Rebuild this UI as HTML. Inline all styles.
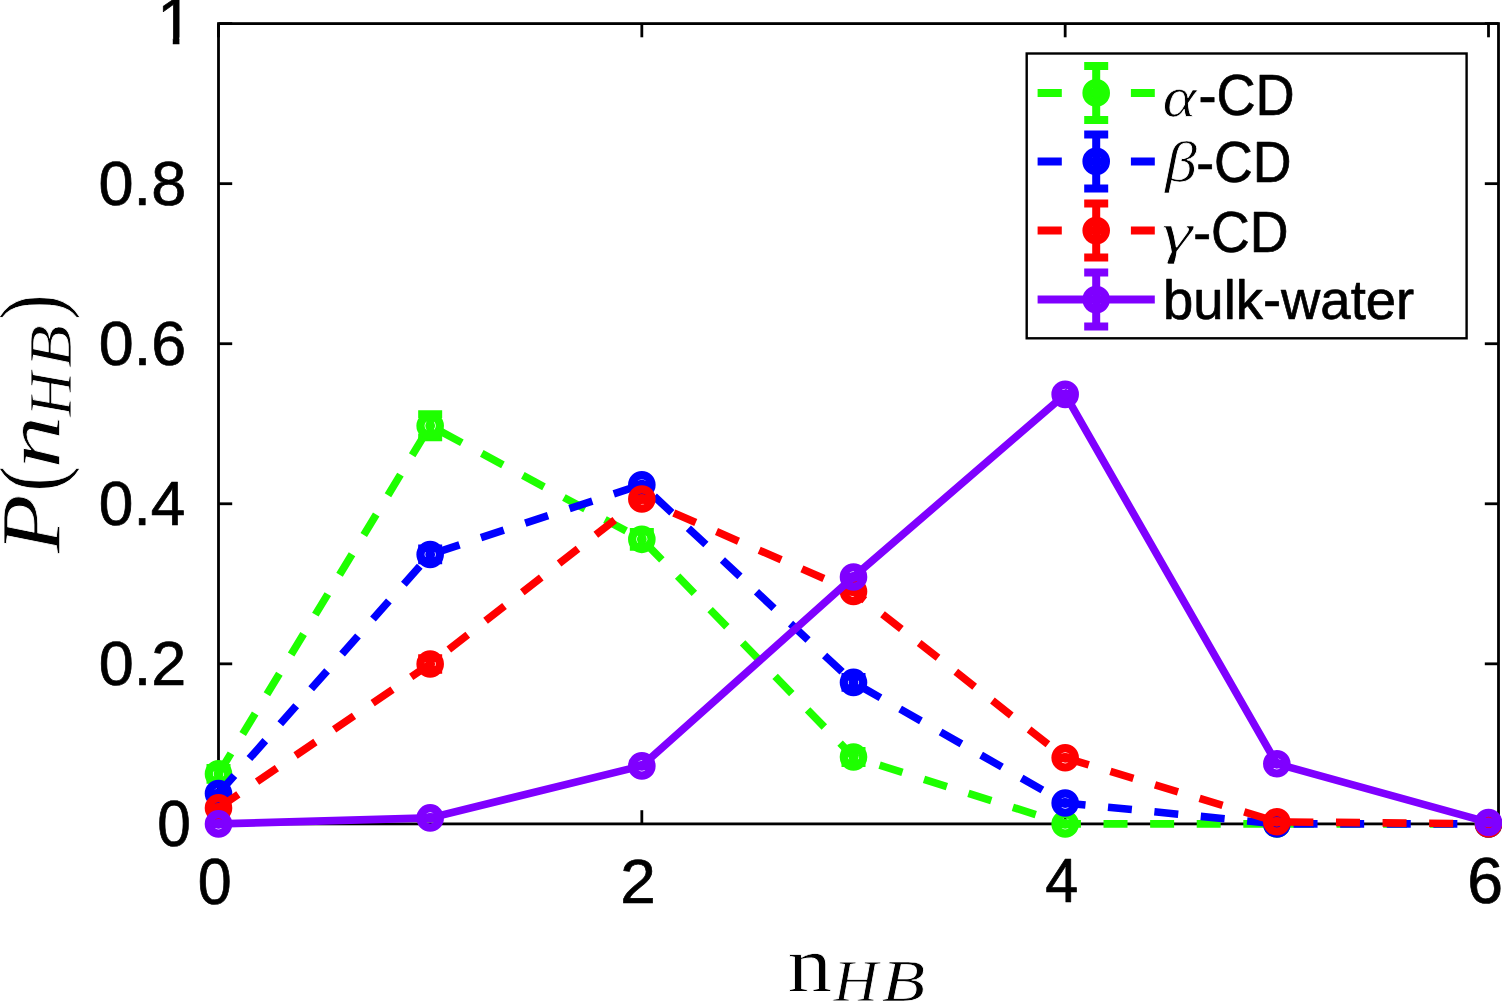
<!DOCTYPE html><html><head><meta charset="utf-8"><style>
html,body{margin:0;padding:0;background:#fff;width:1502px;height:1001px;overflow:hidden}
svg{display:block}
.t{font-family:"Liberation Sans",Arial,Helvetica,sans-serif;fill:#000}
.m{font-family:"Liberation Serif","Times New Roman",serif;font-style:italic;fill:#000}
.r{font-family:"Liberation Serif","Times New Roman",serif;fill:#000}
</style></head><body>
<svg width="1502" height="1001" viewBox="0 0 1502 1001">
<rect width="1502" height="1001" fill="#fff"/>
<g stroke="#000" stroke-width="2.8" fill="none" stroke-linecap="square">
<rect x="218.5" y="23.6" width="1280.0" height="800.3"/>
<line x1="218.50" y1="823.9" x2="218.50" y2="810.1999999999999" stroke-linecap="butt"/>
<line x1="218.50" y1="23.6" x2="218.50" y2="37.3" stroke-linecap="butt"/>
<line x1="641.83" y1="823.9" x2="641.83" y2="810.1999999999999" stroke-linecap="butt"/>
<line x1="641.83" y1="23.6" x2="641.83" y2="37.3" stroke-linecap="butt"/>
<line x1="1065.17" y1="823.9" x2="1065.17" y2="810.1999999999999" stroke-linecap="butt"/>
<line x1="1065.17" y1="23.6" x2="1065.17" y2="37.3" stroke-linecap="butt"/>
<line x1="1488.50" y1="823.9" x2="1488.50" y2="810.1999999999999" stroke-linecap="butt"/>
<line x1="1488.50" y1="23.6" x2="1488.50" y2="37.3" stroke-linecap="butt"/>
<line x1="218.5" y1="823.90" x2="232.2" y2="823.90" stroke-linecap="butt"/>
<line x1="1498.5" y1="823.90" x2="1484.8" y2="823.90" stroke-linecap="butt"/>
<line x1="218.5" y1="663.84" x2="232.2" y2="663.84" stroke-linecap="butt"/>
<line x1="1498.5" y1="663.84" x2="1484.8" y2="663.84" stroke-linecap="butt"/>
<line x1="218.5" y1="503.78" x2="232.2" y2="503.78" stroke-linecap="butt"/>
<line x1="1498.5" y1="503.78" x2="1484.8" y2="503.78" stroke-linecap="butt"/>
<line x1="218.5" y1="343.72" x2="232.2" y2="343.72" stroke-linecap="butt"/>
<line x1="1498.5" y1="343.72" x2="1484.8" y2="343.72" stroke-linecap="butt"/>
<line x1="218.5" y1="183.66" x2="232.2" y2="183.66" stroke-linecap="butt"/>
<line x1="1498.5" y1="183.66" x2="1484.8" y2="183.66" stroke-linecap="butt"/>
<line x1="218.5" y1="23.60" x2="232.2" y2="23.60" stroke-linecap="butt"/>
<line x1="1498.5" y1="23.60" x2="1484.8" y2="23.60" stroke-linecap="butt"/>
</g>
<text class="t" font-size="100" transform="translate(157.23,845.81) scale(0.6042,0.6408)" stroke="#000" stroke-width="1.124" stroke-linejoin="round">0</text>
<text class="t" font-size="100" transform="translate(98.83,685.01) scale(0.6292,0.6366)" stroke="#000" stroke-width="1.106" stroke-linejoin="round">0.2</text>
<text class="t" font-size="100" transform="translate(98.86,524.81) scale(0.6220,0.6366)" stroke="#000" stroke-width="1.112" stroke-linejoin="round">0.4</text>
<text class="t" font-size="100" transform="translate(98.84,364.81) scale(0.6285,0.6366)" stroke="#000" stroke-width="1.107" stroke-linejoin="round">0.6</text>
<text class="t" font-size="100" transform="translate(98.53,204.51) scale(0.6308,0.6380)" stroke="#000" stroke-width="1.103" stroke-linejoin="round">0.8</text>
<text class="t" font-size="100" transform="translate(197.81,903.60) scale(0.6104,0.6493)" stroke="#000" stroke-width="1.111" stroke-linejoin="round">0</text>
<text class="t" font-size="100" transform="translate(620.25,902.55) scale(0.6391,0.6343)" stroke="#000" stroke-width="1.099" stroke-linejoin="round">2</text>
<text class="t" font-size="100" transform="translate(1045.16,902.35) scale(0.5941,0.6377)" stroke="#000" stroke-width="1.137" stroke-linejoin="round">4</text>
<text class="t" font-size="100" transform="translate(1467.13,903.31) scale(0.6435,0.6423)" stroke="#000" stroke-width="1.089" stroke-linejoin="round">6</text>
<clipPath id="c1"><rect x="140" y="-10" width="60" height="47.6"/><rect x="172.8" y="-10" width="6.6" height="60"/></clipPath>
<text class="t" font-size="65" x="156.9" y="43.8" clip-path="url(#c1)" stroke="#000" stroke-width="0.7" stroke-linejoin="round">1</text>
<polyline points="218.50,773.88 430.17,425.75 641.83,539.31 853.50,756.99 1065.17,823.90 1276.83,823.90 1488.50,823.90" fill="none" stroke="#1eff00" stroke-width="7.6" stroke-linejoin="miter" stroke-dasharray="24 22.6"/>
<g stroke="#1eff00" stroke-width="7.6" fill="none">
<path d="M218.50,767.80V779.96M206.50,767.80H230.50M206.50,779.96H230.50"/>
<path d="M430.17,414.15V437.36M418.17,414.15H442.17M418.17,437.36H442.17"/>
<path d="M641.83,531.71V546.92M629.83,531.71H653.83M629.83,546.92H653.83"/>
<path d="M853.50,750.91V763.08M841.50,750.91H865.50M841.50,763.08H865.50"/>
<path d="M1065.17,823.42V824.38M1053.17,823.42H1077.17M1053.17,824.38H1077.17"/>
<path d="M1276.83,823.42V824.38M1264.83,823.42H1288.83M1264.83,824.38H1288.83"/>
<path d="M1488.50,823.42V824.38M1476.50,823.42H1500.50M1476.50,824.38H1500.50"/>
</g>
<path d="M204.70,773.88a13.8,13.8 0 1,0 27.6,0a13.8,13.8 0 1,0 -27.6,0ZM212.90,773.88a5.6,5.6 0 1,0 11.2,0a5.6,5.6 0 1,0 -11.2,0ZM213.60,773.88a4.9,4.9 0 1,0 9.8,0a4.9,4.9 0 1,0 -9.8,0Z" fill="#1eff00" fill-rule="evenodd"/>
<path d="M416.37,425.75a13.8,13.8 0 1,0 27.6,0a13.8,13.8 0 1,0 -27.6,0ZM424.57,425.75a5.6,5.6 0 1,0 11.2,0a5.6,5.6 0 1,0 -11.2,0ZM425.27,425.75a4.9,4.9 0 1,0 9.8,0a4.9,4.9 0 1,0 -9.8,0Z" fill="#1eff00" fill-rule="evenodd"/>
<path d="M628.03,539.31a13.8,13.8 0 1,0 27.6,0a13.8,13.8 0 1,0 -27.6,0ZM636.23,539.31a5.6,5.6 0 1,0 11.2,0a5.6,5.6 0 1,0 -11.2,0ZM636.93,539.31a4.9,4.9 0 1,0 9.8,0a4.9,4.9 0 1,0 -9.8,0Z" fill="#1eff00" fill-rule="evenodd"/>
<path d="M839.70,756.99a13.8,13.8 0 1,0 27.6,0a13.8,13.8 0 1,0 -27.6,0ZM847.90,756.99a5.6,5.6 0 1,0 11.2,0a5.6,5.6 0 1,0 -11.2,0ZM848.60,756.99a4.9,4.9 0 1,0 9.8,0a4.9,4.9 0 1,0 -9.8,0Z" fill="#1eff00" fill-rule="evenodd"/>
<path d="M1051.37,823.90a13.8,13.8 0 1,0 27.6,0a13.8,13.8 0 1,0 -27.6,0ZM1059.57,823.90a5.6,5.6 0 1,0 11.2,0a5.6,5.6 0 1,0 -11.2,0ZM1060.27,823.90a4.9,4.9 0 1,0 9.8,0a4.9,4.9 0 1,0 -9.8,0Z" fill="#1eff00" fill-rule="evenodd"/>
<path d="M1263.03,823.90a13.8,13.8 0 1,0 27.6,0a13.8,13.8 0 1,0 -27.6,0ZM1271.23,823.90a5.6,5.6 0 1,0 11.2,0a5.6,5.6 0 1,0 -11.2,0ZM1271.93,823.90a4.9,4.9 0 1,0 9.8,0a4.9,4.9 0 1,0 -9.8,0Z" fill="#1eff00" fill-rule="evenodd"/>
<path d="M1474.70,823.90a13.8,13.8 0 1,0 27.6,0a13.8,13.8 0 1,0 -27.6,0ZM1482.90,823.90a5.6,5.6 0 1,0 11.2,0a5.6,5.6 0 1,0 -11.2,0ZM1483.60,823.90a4.9,4.9 0 1,0 9.8,0a4.9,4.9 0 1,0 -9.8,0Z" fill="#1eff00" fill-rule="evenodd"/>
<polyline points="218.50,793.49 430.17,554.44 641.83,484.73 853.50,682.41 1065.17,803.01 1276.83,823.90 1488.50,823.90" fill="none" stroke="#0000ff" stroke-width="7.6" stroke-linejoin="miter" stroke-dasharray="24 22.6"/>
<g stroke="#0000ff" stroke-width="7.6" fill="none">
<path d="M218.50,793.01V793.97M206.50,793.01H230.50M206.50,793.97H230.50"/>
<path d="M430.17,548.36V560.52M418.17,548.36H442.17M418.17,560.52H442.17"/>
<path d="M641.83,484.25V485.21M629.83,484.25H653.83M629.83,485.21H653.83"/>
<path d="M853.50,676.88V687.93M841.50,676.88H865.50M841.50,687.93H865.50"/>
<path d="M1065.17,802.53V803.49M1053.17,802.53H1077.17M1053.17,803.49H1077.17"/>
<path d="M1276.83,823.42V824.38M1264.83,823.42H1288.83M1264.83,824.38H1288.83"/>
<path d="M1488.50,823.42V824.38M1476.50,823.42H1500.50M1476.50,824.38H1500.50"/>
</g>
<path d="M204.70,793.49a13.8,13.8 0 1,0 27.6,0a13.8,13.8 0 1,0 -27.6,0ZM212.90,793.49a5.6,5.6 0 1,0 11.2,0a5.6,5.6 0 1,0 -11.2,0ZM213.60,793.49a4.9,4.9 0 1,0 9.8,0a4.9,4.9 0 1,0 -9.8,0Z" fill="#0000ff" fill-rule="evenodd"/>
<path d="M416.37,554.44a13.8,13.8 0 1,0 27.6,0a13.8,13.8 0 1,0 -27.6,0ZM424.57,554.44a5.6,5.6 0 1,0 11.2,0a5.6,5.6 0 1,0 -11.2,0ZM425.27,554.44a4.9,4.9 0 1,0 9.8,0a4.9,4.9 0 1,0 -9.8,0Z" fill="#0000ff" fill-rule="evenodd"/>
<path d="M628.03,484.73a13.8,13.8 0 1,0 27.6,0a13.8,13.8 0 1,0 -27.6,0ZM636.23,484.73a5.6,5.6 0 1,0 11.2,0a5.6,5.6 0 1,0 -11.2,0ZM636.93,484.73a4.9,4.9 0 1,0 9.8,0a4.9,4.9 0 1,0 -9.8,0Z" fill="#0000ff" fill-rule="evenodd"/>
<path d="M839.70,682.41a13.8,13.8 0 1,0 27.6,0a13.8,13.8 0 1,0 -27.6,0ZM847.90,682.41a5.6,5.6 0 1,0 11.2,0a5.6,5.6 0 1,0 -11.2,0ZM848.60,682.41a4.9,4.9 0 1,0 9.8,0a4.9,4.9 0 1,0 -9.8,0Z" fill="#0000ff" fill-rule="evenodd"/>
<path d="M1051.37,803.01a13.8,13.8 0 1,0 27.6,0a13.8,13.8 0 1,0 -27.6,0ZM1059.57,803.01a5.6,5.6 0 1,0 11.2,0a5.6,5.6 0 1,0 -11.2,0ZM1060.27,803.01a4.9,4.9 0 1,0 9.8,0a4.9,4.9 0 1,0 -9.8,0Z" fill="#0000ff" fill-rule="evenodd"/>
<path d="M1263.03,823.90a13.8,13.8 0 1,0 27.6,0a13.8,13.8 0 1,0 -27.6,0ZM1271.23,823.90a5.6,5.6 0 1,0 11.2,0a5.6,5.6 0 1,0 -11.2,0ZM1271.93,823.90a4.9,4.9 0 1,0 9.8,0a4.9,4.9 0 1,0 -9.8,0Z" fill="#0000ff" fill-rule="evenodd"/>
<path d="M1474.70,823.90a13.8,13.8 0 1,0 27.6,0a13.8,13.8 0 1,0 -27.6,0ZM1482.90,823.90a5.6,5.6 0 1,0 11.2,0a5.6,5.6 0 1,0 -11.2,0ZM1483.60,823.90a4.9,4.9 0 1,0 9.8,0a4.9,4.9 0 1,0 -9.8,0Z" fill="#0000ff" fill-rule="evenodd"/>
<polyline points="218.50,807.89 430.17,664.00 641.83,498.98 853.50,591.41 1065.17,757.80 1276.83,821.82 1488.50,823.90" fill="none" stroke="#ff0000" stroke-width="7.6" stroke-linejoin="miter" stroke-dasharray="24 22.6"/>
<g stroke="#ff0000" stroke-width="7.6" fill="none">
<path d="M218.50,807.41V808.37M206.50,807.41H230.50M206.50,808.37H230.50"/>
<path d="M430.17,658.16V669.84M418.17,658.16H442.17M418.17,669.84H442.17"/>
<path d="M641.83,498.50V499.46M629.83,498.50H653.83M629.83,499.46H653.83"/>
<path d="M853.50,590.93V591.89M841.50,590.93H865.50M841.50,591.89H865.50"/>
<path d="M1065.17,757.32V758.28M1053.17,757.32H1077.17M1053.17,758.28H1077.17"/>
<path d="M1276.83,821.34V822.30M1264.83,821.34H1288.83M1264.83,822.30H1288.83"/>
<path d="M1488.50,823.42V824.38M1476.50,823.42H1500.50M1476.50,824.38H1500.50"/>
</g>
<path d="M204.70,807.89a13.8,13.8 0 1,0 27.6,0a13.8,13.8 0 1,0 -27.6,0ZM212.90,807.89a5.6,5.6 0 1,0 11.2,0a5.6,5.6 0 1,0 -11.2,0ZM213.60,807.89a4.9,4.9 0 1,0 9.8,0a4.9,4.9 0 1,0 -9.8,0Z" fill="#ff0000" fill-rule="evenodd"/>
<path d="M416.37,664.00a13.8,13.8 0 1,0 27.6,0a13.8,13.8 0 1,0 -27.6,0ZM424.57,664.00a5.6,5.6 0 1,0 11.2,0a5.6,5.6 0 1,0 -11.2,0ZM425.27,664.00a4.9,4.9 0 1,0 9.8,0a4.9,4.9 0 1,0 -9.8,0Z" fill="#ff0000" fill-rule="evenodd"/>
<path d="M628.03,498.98a13.8,13.8 0 1,0 27.6,0a13.8,13.8 0 1,0 -27.6,0ZM636.23,498.98a5.6,5.6 0 1,0 11.2,0a5.6,5.6 0 1,0 -11.2,0ZM636.93,498.98a4.9,4.9 0 1,0 9.8,0a4.9,4.9 0 1,0 -9.8,0Z" fill="#ff0000" fill-rule="evenodd"/>
<path d="M839.70,591.41a13.8,13.8 0 1,0 27.6,0a13.8,13.8 0 1,0 -27.6,0ZM847.90,591.41a5.6,5.6 0 1,0 11.2,0a5.6,5.6 0 1,0 -11.2,0ZM848.60,591.41a4.9,4.9 0 1,0 9.8,0a4.9,4.9 0 1,0 -9.8,0Z" fill="#ff0000" fill-rule="evenodd"/>
<path d="M1051.37,757.80a13.8,13.8 0 1,0 27.6,0a13.8,13.8 0 1,0 -27.6,0ZM1059.57,757.80a5.6,5.6 0 1,0 11.2,0a5.6,5.6 0 1,0 -11.2,0ZM1060.27,757.80a4.9,4.9 0 1,0 9.8,0a4.9,4.9 0 1,0 -9.8,0Z" fill="#ff0000" fill-rule="evenodd"/>
<path d="M1263.03,821.82a13.8,13.8 0 1,0 27.6,0a13.8,13.8 0 1,0 -27.6,0ZM1271.23,821.82a5.6,5.6 0 1,0 11.2,0a5.6,5.6 0 1,0 -11.2,0ZM1271.93,821.82a4.9,4.9 0 1,0 9.8,0a4.9,4.9 0 1,0 -9.8,0Z" fill="#ff0000" fill-rule="evenodd"/>
<path d="M1474.70,823.90a13.8,13.8 0 1,0 27.6,0a13.8,13.8 0 1,0 -27.6,0ZM1482.90,823.90a5.6,5.6 0 1,0 11.2,0a5.6,5.6 0 1,0 -11.2,0ZM1483.60,823.90a4.9,4.9 0 1,0 9.8,0a4.9,4.9 0 1,0 -9.8,0Z" fill="#ff0000" fill-rule="evenodd"/>
<polyline points="218.50,823.90 430.17,817.90 641.83,765.88 853.50,576.93 1065.17,394.38 1276.83,763.80 1488.50,822.46" fill="none" stroke="#7f00ff" stroke-width="7.6" stroke-linejoin="miter"/>
<g stroke="#7f00ff" stroke-width="7.6" fill="none">
<path d="M218.50,823.42V824.38M206.50,823.42H230.50M206.50,824.38H230.50"/>
<path d="M430.17,817.42V818.38M418.17,817.42H442.17M418.17,818.38H442.17"/>
<path d="M641.83,765.40V766.36M629.83,765.40H653.83M629.83,766.36H653.83"/>
<path d="M853.50,576.45V577.41M841.50,576.45H865.50M841.50,577.41H865.50"/>
<path d="M1065.17,393.90V394.86M1053.17,393.90H1077.17M1053.17,394.86H1077.17"/>
<path d="M1276.83,763.32V764.28M1264.83,763.32H1288.83M1264.83,764.28H1288.83"/>
<path d="M1488.50,821.98V822.94M1476.50,821.98H1500.50M1476.50,822.94H1500.50"/>
</g>
<path d="M204.70,823.90a13.8,13.8 0 1,0 27.6,0a13.8,13.8 0 1,0 -27.6,0ZM212.90,823.90a5.6,5.6 0 1,0 11.2,0a5.6,5.6 0 1,0 -11.2,0ZM213.60,823.90a4.9,4.9 0 1,0 9.8,0a4.9,4.9 0 1,0 -9.8,0Z" fill="#7f00ff" fill-rule="evenodd"/>
<path d="M416.37,817.90a13.8,13.8 0 1,0 27.6,0a13.8,13.8 0 1,0 -27.6,0ZM424.57,817.90a5.6,5.6 0 1,0 11.2,0a5.6,5.6 0 1,0 -11.2,0ZM425.27,817.90a4.9,4.9 0 1,0 9.8,0a4.9,4.9 0 1,0 -9.8,0Z" fill="#7f00ff" fill-rule="evenodd"/>
<path d="M628.03,765.88a13.8,13.8 0 1,0 27.6,0a13.8,13.8 0 1,0 -27.6,0ZM636.23,765.88a5.6,5.6 0 1,0 11.2,0a5.6,5.6 0 1,0 -11.2,0ZM636.93,765.88a4.9,4.9 0 1,0 9.8,0a4.9,4.9 0 1,0 -9.8,0Z" fill="#7f00ff" fill-rule="evenodd"/>
<path d="M839.70,576.93a13.8,13.8 0 1,0 27.6,0a13.8,13.8 0 1,0 -27.6,0ZM847.90,576.93a5.6,5.6 0 1,0 11.2,0a5.6,5.6 0 1,0 -11.2,0ZM848.60,576.93a4.9,4.9 0 1,0 9.8,0a4.9,4.9 0 1,0 -9.8,0Z" fill="#7f00ff" fill-rule="evenodd"/>
<path d="M1051.37,394.38a13.8,13.8 0 1,0 27.6,0a13.8,13.8 0 1,0 -27.6,0ZM1059.57,394.38a5.6,5.6 0 1,0 11.2,0a5.6,5.6 0 1,0 -11.2,0ZM1060.27,394.38a4.9,4.9 0 1,0 9.8,0a4.9,4.9 0 1,0 -9.8,0Z" fill="#7f00ff" fill-rule="evenodd"/>
<path d="M1263.03,763.80a13.8,13.8 0 1,0 27.6,0a13.8,13.8 0 1,0 -27.6,0ZM1271.23,763.80a5.6,5.6 0 1,0 11.2,0a5.6,5.6 0 1,0 -11.2,0ZM1271.93,763.80a4.9,4.9 0 1,0 9.8,0a4.9,4.9 0 1,0 -9.8,0Z" fill="#7f00ff" fill-rule="evenodd"/>
<path d="M1474.70,822.46a13.8,13.8 0 1,0 27.6,0a13.8,13.8 0 1,0 -27.6,0ZM1482.90,822.46a5.6,5.6 0 1,0 11.2,0a5.6,5.6 0 1,0 -11.2,0ZM1483.60,822.46a4.9,4.9 0 1,0 9.8,0a4.9,4.9 0 1,0 -9.8,0Z" fill="#7f00ff" fill-rule="evenodd"/>
<rect x="1026.7" y="53.5" width="439.9" height="284.8" fill="#fff" stroke="#000" stroke-width="2.4"/>
<path d="M1037.6,92.9H1061.8M1084.2,92.9H1108.2M1130.9,92.9H1154.8" stroke="#1eff00" stroke-width="8" fill="none"/>
<path d="M1096.2,65.9V119.9M1084.2,65.9H1108.2M1084.2,119.9H1108.2" stroke="#1eff00" stroke-width="8" fill="none"/>
<path d="M1082.40,92.90a13.8,13.8 0 1,0 27.6,0a13.8,13.8 0 1,0 -27.6,0ZM1090.60,92.90a5.6,5.6 0 1,0 11.2,0a5.6,5.6 0 1,0 -11.2,0ZM1091.30,92.90a4.9,4.9 0 1,0 9.8,0a4.9,4.9 0 1,0 -9.8,0Z" fill="#1eff00" fill-rule="evenodd"/>
<path d="M1037.6,161.4H1061.8M1084.2,161.4H1108.2M1130.9,161.4H1154.8" stroke="#0000ff" stroke-width="8" fill="none"/>
<path d="M1096.2,134.4V188.4M1084.2,134.4H1108.2M1084.2,188.4H1108.2" stroke="#0000ff" stroke-width="8" fill="none"/>
<path d="M1082.40,161.40a13.8,13.8 0 1,0 27.6,0a13.8,13.8 0 1,0 -27.6,0ZM1090.60,161.40a5.6,5.6 0 1,0 11.2,0a5.6,5.6 0 1,0 -11.2,0ZM1091.30,161.40a4.9,4.9 0 1,0 9.8,0a4.9,4.9 0 1,0 -9.8,0Z" fill="#0000ff" fill-rule="evenodd"/>
<path d="M1037.6,230.6H1061.8M1084.2,230.6H1108.2M1130.9,230.6H1154.8" stroke="#ff0000" stroke-width="8" fill="none"/>
<path d="M1096.2,203.6V257.6M1084.2,203.6H1108.2M1084.2,257.6H1108.2" stroke="#ff0000" stroke-width="8" fill="none"/>
<path d="M1082.40,230.60a13.8,13.8 0 1,0 27.6,0a13.8,13.8 0 1,0 -27.6,0ZM1090.60,230.60a5.6,5.6 0 1,0 11.2,0a5.6,5.6 0 1,0 -11.2,0ZM1091.30,230.60a4.9,4.9 0 1,0 9.8,0a4.9,4.9 0 1,0 -9.8,0Z" fill="#ff0000" fill-rule="evenodd"/>
<path d="M1037.6,299.6H1154.8" stroke="#7f00ff" stroke-width="8" fill="none"/>
<path d="M1096.2,272.6V326.6M1084.2,272.6H1108.2M1084.2,326.6H1108.2" stroke="#7f00ff" stroke-width="8" fill="none"/>
<path d="M1082.40,299.60a13.8,13.8 0 1,0 27.6,0a13.8,13.8 0 1,0 -27.6,0ZM1090.60,299.60a5.6,5.6 0 1,0 11.2,0a5.6,5.6 0 1,0 -11.2,0ZM1091.30,299.60a4.9,4.9 0 1,0 9.8,0a4.9,4.9 0 1,0 -9.8,0Z" fill="#7f00ff" fill-rule="evenodd"/>
<text class="m" font-size="100" transform="translate(1162.57,115.74) scale(0.6431,0.5604)" stroke="#fff" stroke-width="1.329" stroke-linejoin="round">α</text>
<text class="t" font-size="100" transform="translate(1198.38,114.97) scale(0.5418,0.5817)" stroke="#000" stroke-width="1.246" stroke-linejoin="round">-CD</text>
<text class="m" font-size="100" transform="translate(1164.98,181.39) scale(0.6423,0.5670)" stroke="#fff" stroke-width="1.323" stroke-linejoin="round">β</text>
<text class="t" font-size="100" transform="translate(1196.20,181.87) scale(0.5365,0.5789)" stroke="#000" stroke-width="1.255" stroke-linejoin="round">-CD</text>
<text class="m" font-size="100" transform="translate(1161.96,252.38) scale(0.7700,0.5627)" stroke="#fff" stroke-width="1.201" stroke-linejoin="round">γ</text>
<text class="t" font-size="100" transform="translate(1193.20,251.97) scale(0.5365,0.5803)" stroke="#000" stroke-width="1.254" stroke-linejoin="round">-CD</text>
<text class="t" font-size="100" transform="translate(1163.08,318.99) scale(0.5445,0.5644)" stroke="#000" stroke-width="1.263" stroke-linejoin="round">bulk-water</text>
<text class="r" font-size="100" transform="translate(787.62,990.50) scale(0.8915,0.8000)" stroke="#fff" stroke-width="0.946" stroke-linejoin="round">n</text>
<text class="m" font-size="100" transform="translate(833.52,1001.00) scale(0.6179,0.6000)" stroke="#fff" stroke-width="1.314" stroke-linejoin="round">H</text>
<text class="m" font-size="100" transform="translate(881.69,1001.00) scale(0.7121,0.6000)" stroke="#fff" stroke-width="1.219" stroke-linejoin="round">B</text>
<text class="m" font-size="100" transform="translate(60.00,553.34) rotate(-90) scale(0.9633,0.8523)" stroke="#fff" stroke-width="0.881" stroke-linejoin="round">P</text>
<text class="r" font-size="100" transform="translate(60.55,491.81) rotate(-90) scale(0.7769,0.8978)" stroke="#fff" stroke-width="0.955" stroke-linejoin="round">(</text>
<text class="m" font-size="100" transform="translate(60.40,468.67) rotate(-90) scale(1.0667,0.7830)" stroke="#fff" stroke-width="0.865" stroke-linejoin="round">n</text>
<text class="m" font-size="100" transform="translate(71.40,416.58) rotate(-90) scale(0.6179,0.6062)" stroke="#fff" stroke-width="1.307" stroke-linejoin="round">H</text>
<text class="m" font-size="100" transform="translate(71.40,368.00) rotate(-90) scale(0.7034,0.6092)" stroke="#fff" stroke-width="1.219" stroke-linejoin="round">B</text>
<text class="r" font-size="100" transform="translate(60.62,319.70) rotate(-90) scale(0.7654,0.8989)" stroke="#fff" stroke-width="0.961" stroke-linejoin="round">)</text>
</svg></body></html>
